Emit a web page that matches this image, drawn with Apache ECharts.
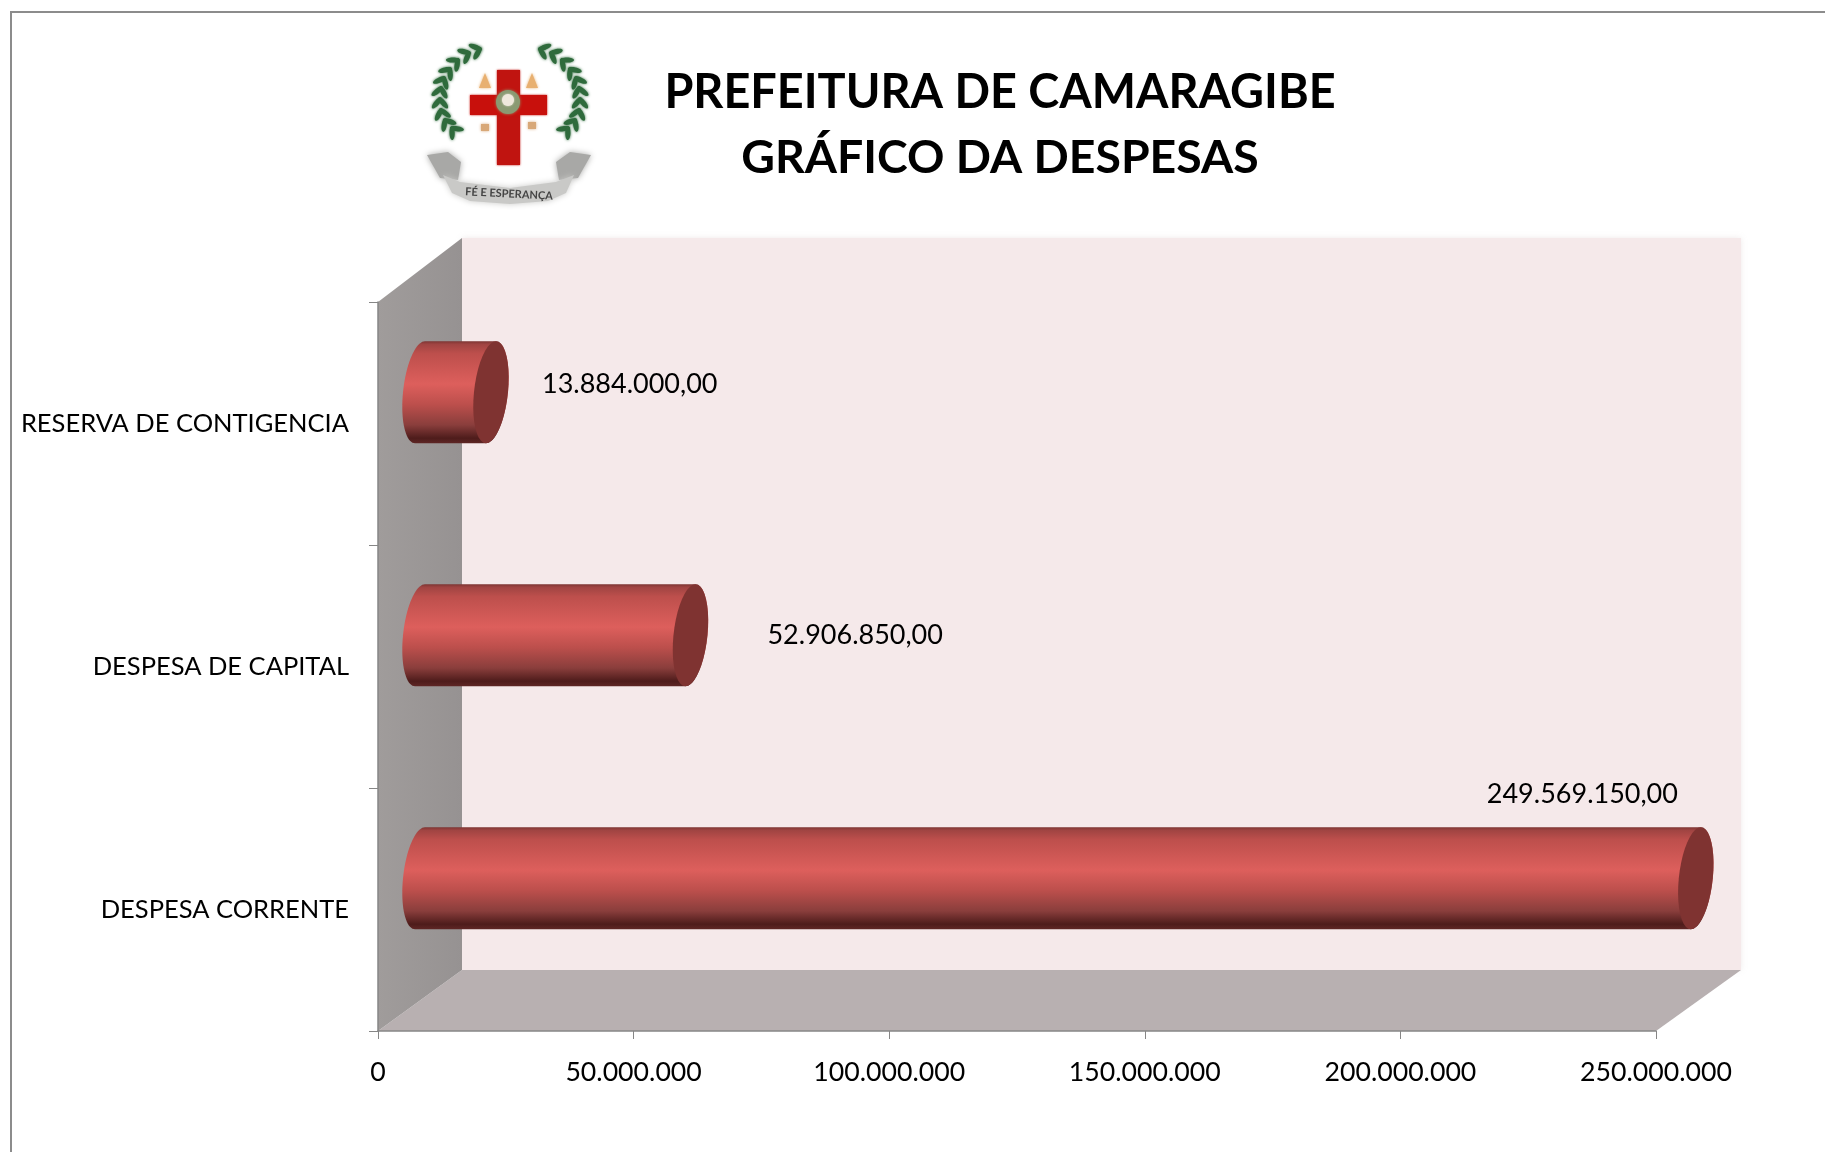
<!DOCTYPE html>
<html>
<head>
<meta charset="utf-8">
<script src="https://cdn.jsdelivr.net/npm/echarts@6/dist/echarts.min.js"></script>
<style>
  html, body { margin: 0; padding: 0; background: #fff; }
  #main { width: 1825px; height: 1152px; }
</style>
</head>
<body>
<div id="main"></div>
<script>
var titleLines = ['PREFEITURA DE CAMARAGIBE', 'GRÁFICO DA DESPESAS']
var categories = ['DESPESA CORRENTE', 'DESPESA DE CAPITAL', 'RESERVA DE CONTIGENCIA']
var values = [249569150, 52906850, 13884000]
var valueLabels = ['249.569.150,00', '52.906.850,00', '13.884.000,00']
var axisMax = 250000000
var axisStep = 50000000
var mottoText = 'FÉ E ESPERANÇA'

var FONT = 'Lato, Carlito, "Open Sans", sans-serif'

// hand placed data labels, as in the original sheet: px relative to the end of the bar
var labelNudge = [[-226, -84], [60, 0], [34, -8]]

// the wall box sits behind the grid, the cylinders are half way into it
var DEPTH_X = 84
var DEPTH_TOP = 64
var DEPTH_BOTTOM = 61
var ELLIPSE_RX = 17
var ELLIPSE_TILT = 5

function ellipsePoints(cx, cy, ry, from, to) {
  var pts = []
  for (var i = 0; i <= 40; i++) {
    var a = from + (to - from) * i / 40
    // a is measured from the top of the ellipse, going clockwise
    pts.push([cx + ELLIPSE_RX * Math.sin(a) + ELLIPSE_TILT * Math.cos(a), cy - ry * Math.cos(a)])
  }
  return pts
}

function renderWalls(params, api) {
  var c = params.coordSys
  var x0 = c.x, x1 = c.x + c.width, y0 = c.y, y1 = c.y + c.height
  return {
    type: 'group',
    children: [
      {
        type: 'rect',
        shape: { x: x0 + DEPTH_X, y: y0 - DEPTH_TOP, width: c.width + 1, height: c.height + DEPTH_TOP - DEPTH_BOTTOM },
        style: { fill: '#f5e9ea', shadowBlur: 6, shadowColor: 'rgba(190,170,170,0.25)' }
      },
      {
        type: 'polygon',
        shape: { points: [[x0, y1], [x0 + DEPTH_X, y1 - DEPTH_BOTTOM], [x1 + DEPTH_X + 1, y1 - DEPTH_BOTTOM], [x1, y1]] },
        style: { fill: '#b8b0b1' }
      },
      {
        type: 'polygon',
        shape: { points: [[x0, y0], [x0 + DEPTH_X, y0 - DEPTH_TOP], [x0 + DEPTH_X, y1 - DEPTH_BOTTOM], [x0, y1]] },
        style: {
          fill: new echarts.graphic.LinearGradient(0, 0, 1, 0, [
            { offset: 0, color: '#a09c9b' },
            { offset: 1, color: '#969292' }
          ])
        }
      }
    ]
  }
}

function renderCylinder(params, api) {
  var i = params.dataIndex
  var zero = api.coord([0, api.value(1)])
  var end = api.coord([api.value(0), api.value(1)])
  var band = api.size([0, 1])[1]
  var ry = band * 0.21
  var cy = zero[1] - (DEPTH_TOP + DEPTH_BOTTOM) / 4
  var dx = DEPTH_X / 2
  var left = ellipsePoints(zero[0] + dx, cy, ry, Math.PI, Math.PI * 2)
  var right = ellipsePoints(end[0] + dx, cy, ry, 0, Math.PI)
  var body = left.concat(right)
  var cap = ellipsePoints(end[0] + dx, cy, ry, 0, Math.PI * 2)
  var nudge = labelNudge[i]
  return {
    type: 'group',
    children: [
      {
        type: 'polygon',
        shape: { points: body },
        style: {
          fill: new echarts.graphic.LinearGradient(0, 0, 0, 1, [
            { offset: 0, color: '#7d3533' },
            { offset: 0.03, color: '#a04442' },
            { offset: 0.12, color: '#bd4f4c' },
            { offset: 0.42, color: '#dd5f5c' },
            { offset: 0.62, color: '#bc4f4c' },
            { offset: 0.82, color: '#8a3e3c' },
            { offset: 0.95, color: '#4e1c1b' },
            { offset: 1, color: '#5e2625' }
          ])
        }
      },
      {
        type: 'polygon',
        shape: { points: cap },
        style: { fill: '#7f3331' }
      },
      {
        type: 'text',
        x: end[0] + dx + ELLIPSE_RX + nudge[0],
        y: cy + nudge[1],
        style: {
          text: valueLabels[i],
          fill: '#000',
          font: '27px ' + FONT,
          align: 'left',
          verticalAlign: 'middle'
        }
      }
    ]
  }
}

function softShape(type, shape, fill, blur) {
  return { type: type, shape: shape, style: { fill: fill, shadowBlur: blur, shadowColor: fill } }
}

// the town crest next to the title, only roughly drawn
function crestElements() {
  var els = []
  var branch = [[480, 49], [469, 53], [458, 60], [450, 69], [444, 78], [441, 88], [440, 99], [441, 110], [445, 120], [452, 128]]
  var green = '#2f6b3c'
  branch.forEach(function (p, i) {
    var q = branch[Math.min(i + 1, branch.length - 1)]
    var o = branch[Math.max(i - 1, 0)]
    var a = Math.atan2(q[1] - o[1], q[0] - o[0])
    ;[-1, 1].forEach(function (side) {
      var b = a + side * 0.7
      var lx = p[0] + Math.cos(b) * 5
      var ly = p[1] + Math.sin(b) * 5
      // zrender turns the other way round from the screen angle
      ;[[lx, -b], [1020 - lx, b]].forEach(function (l) {
        els.push({
          type: 'ellipse',
          x: l[0], y: ly, rotation: l[1],
          shape: { cx: 0, cy: 0, rx: 7, ry: 2.6 },
          style: { fill: green, shadowBlur: 3, shadowColor: green }
        })
      })
    })
  })
  els.push(softShape('rect', { x: 497, y: 70, width: 23, height: 95 }, '#c01410', 2))
  els.push(softShape('rect', { x: 470, y: 95, width: 77, height: 20 }, '#c8100c', 2))
  els.push(softShape('circle', { cx: 508, cy: 102, r: 12 }, '#8a9a72', 3))
  els.push(softShape('circle', { cx: 508, cy: 100, r: 6 }, '#efe8dc', 2))
  els.push(softShape('polygon', { points: [[485, 73], [491, 88], [479, 88]] }, '#e8b070', 3))
  els.push(softShape('polygon', { points: [[532, 73], [538, 88], [526, 88]] }, '#e8b070', 3))
  els.push(softShape('rect', { x: 481, y: 124, width: 8, height: 7 }, '#d8a878', 3))
  els.push(softShape('rect', { x: 528, y: 122, width: 8, height: 7 }, '#d8a878', 3))
  // ribbon: two curls and the band under the cross
  els.push(softShape('polygon', { points: [[427, 155], [448, 152], [461, 162], [458, 180], [440, 178]] }, '#a8a8a6', 6))
  els.push(softShape('polygon', { points: [[591, 155], [570, 152], [556, 162], [559, 180], [578, 178]] }, '#a8a8a6', 6))
  els.push(softShape('polygon', { points: [[443, 175], [460, 182], [510, 188], [556, 182], [574, 175], [566, 193], [548, 201], [510, 204], [470, 201], [452, 193]] }, '#c9c9c7', 6))
  els.push({
    type: 'text',
    x: 509, y: 194,
    rotation: -0.05,
    style: { text: mottoText, font: 'bold 11px ' + FONT, fill: '#444', align: 'center', verticalAlign: 'middle' }
  })
  return els
}

var chart = echarts.init(document.getElementById('main'), null, { renderer: 'canvas' })

var graphics = [
  {
    type: 'polyline',
    shape: { points: [[11, 1152], [11, 12], [1825, 12]] },
    style: { stroke: '#8c8c8c', lineWidth: 2, fill: null }
  },
  {
    type: 'text',
    x: 1000, y: 93,
    style: { text: titleLines[0], font: 'bold 46.8px ' + FONT, fill: '#000', align: 'center', verticalAlign: 'middle' }
  },
  {
    type: 'text',
    x: 1000, y: 158,
    style: { text: titleLines[1], font: 'bold 46.4px ' + FONT, fill: '#000', align: 'center', verticalAlign: 'middle' }
  }
].concat(crestElements())

chart.setOption({
  animation: false,
  backgroundColor: '#fff',
  grid: { left: 378, top: 302, width: 1278, height: 729, containLabel: false },
  xAxis: {
    type: 'value',
    min: 0,
    max: axisMax,
    interval: axisStep,
    z: 5,
    axisLine: { show: true, lineStyle: { color: '#868686', width: 1.5 } },
    axisTick: { show: true, length: 8, lineStyle: { color: '#868686' } },
    splitLine: { show: false },
    axisLabel: {
      margin: 28,
      fontFamily: FONT,
      fontSize: 26.7,
      color: '#000',
      formatter: function (v) { return String(v).replace(/\B(?=(\d{3})+$)/g, '.') }
    }
  },
  yAxis: {
    type: 'category',
    data: categories,
    z: 5,
    axisLine: { show: true, lineStyle: { color: '#868686', width: 1.5 } },
    axisTick: { show: true, length: 9, lineStyle: { color: '#868686' } },
    axisLabel: { margin: 29, fontFamily: FONT, fontSize: 25.5, color: '#000', padding: [12, 0, 0, 0] }
  },
  graphic: { elements: graphics },
  series: [
    {
      type: 'custom',
      name: 'paredes',
      z: 1,
      silent: true,
      coordinateSystem: 'cartesian2d',
      renderItem: renderWalls,
      clip: false,
      data: [[0, 0]]
    },
    {
      type: 'custom',
      name: 'despesas',
      z: 2,
      coordinateSystem: 'cartesian2d',
      renderItem: renderCylinder,
      clip: false,
      encode: { x: 0, y: 1 },
      data: values.map(function (v, i) { return [v, i] })
    }
  ]
})
</script>
</body>
</html>
